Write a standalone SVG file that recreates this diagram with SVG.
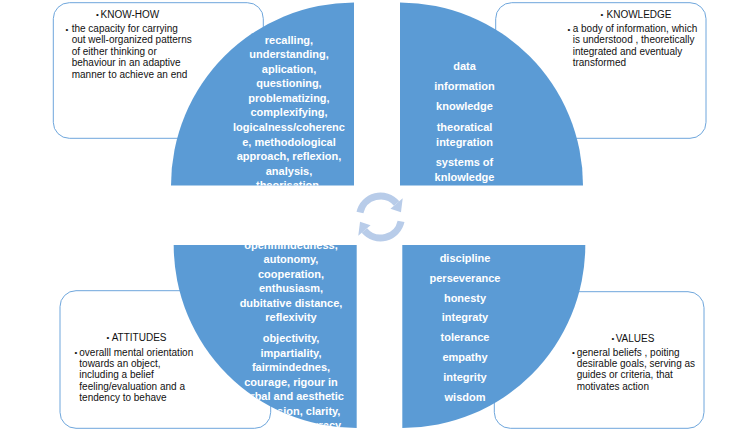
<svg xmlns="http://www.w3.org/2000/svg" width="753" height="435" viewBox="0 0 753 435">
<style>
.box{fill:#ffffff;stroke:#6ea6dc;stroke-width:1}
.quad{fill:#5b9bd5}
.qt{font-family:"Liberation Sans",Arial,sans-serif;font-size:11px;font-weight:bold;fill:#ffffff;text-anchor:middle}
.bt{font-family:"Liberation Sans",Arial,sans-serif;font-size:10px;fill:#111111}
.bu{font-family:"Liberation Sans",Arial,sans-serif;font-size:8px;fill:#111111}
.bh{font-family:"Liberation Sans",Arial,sans-serif;font-size:10px;fill:#111111}
.cyc{fill:none;stroke:#b8cce9;stroke-width:7}
.cyh{fill:#b8cce9}
</style>
<defs>
<clipPath id="cTL"><path d="M354,185.5 L171,185.5 A183,183 0 0 1 354,2.5 Z"/></clipPath>
<clipPath id="cTR"><path d="M400,185.5 L400,2.5 A183,183 0 0 1 583,185.5 Z"/></clipPath>
<clipPath id="cBL"><path d="M356.7,245 L356.7,428 A183,183 0 0 1 173.7,245 Z"/></clipPath>
<clipPath id="cBR"><path d="M402.3,245 L585.3,245 A183,183 0 0 1 402.3,428 Z"/></clipPath>
</defs>
<rect width="753" height="435" fill="#ffffff"/>

<g id="knowhow-box">
<rect class="box" x="53.3" y="2.7" width="210" height="135.6" rx="16"/>
<text class="bu" x="96" y="17">•</text>
<text class="bh" x="100.5" y="17.5">KNOW-HOW</text>
<text class="bu" x="65.5" y="31.5">•</text>
<text class="bt" x="71.7" y="32">the capacity for carrying</text>
<text class="bt" x="71.7" y="43.3">out well-organized patterns</text>
<text class="bt" x="71.7" y="55">of either thinking or</text>
<text class="bt" x="71.7" y="66.3">behaviour in an adaptive</text>
<text class="bt" x="71.7" y="77.5">manner to achieve an end</text>
</g>

<g id="knowledge-box">
<rect class="box" x="495.7" y="2.7" width="210.3" height="135.6" rx="16"/>
<text class="bu" x="600.5" y="17">•</text>
<text class="bh" x="606.5" y="17.5">KNOWLEDGE</text>
<text class="bu" x="567.5" y="31.5">•</text>
<text class="bt" x="572.7" y="32">a body of information, which</text>
<text class="bt" x="572.7" y="43.3">is understood , theoretically</text>
<text class="bt" x="572.7" y="55">integrated and eventualy</text>
<text class="bt" x="572.7" y="66.3">transformed</text>
</g>

<g id="attitudes-box">
<rect class="box" x="60" y="290.7" width="210.7" height="137.6" rx="16"/>
<text class="bu" x="106.5" y="340.2">•</text>
<text class="bh" x="111.7" y="340.7">ATTITUDES</text>
<text class="bu" x="74.5" y="355.2">•</text>
<text class="bt" x="79.3" y="355.7">overalll mental orientation</text>
<text class="bt" x="79.3" y="367">towards an object,</text>
<text class="bt" x="79.3" y="378.3">including a belief</text>
<text class="bt" x="79.3" y="389.7">feeling/evaluation and a</text>
<text class="bt" x="79.3" y="401">tendency to behave</text>
</g>

<g id="values-box">
<rect class="box" x="494.3" y="291.7" width="209.7" height="136.6" rx="16"/>
<text class="bu" x="611.5" y="341.2">•</text>
<text class="bh" x="615.7" y="341.7">VALUES</text>
<text class="bu" x="572" y="355.2">•</text>
<text class="bt" x="576.7" y="355.7">general beliefs , poiting</text>
<text class="bt" x="576.7" y="367">desirable goals, serving as</text>
<text class="bt" x="576.7" y="378.3">guides or criteria, that</text>
<text class="bt" x="576.7" y="389.7">motivates action</text>
</g>

<g id="skills-quadrant">
<path class="quad" d="M354,185.5 L171,185.5 A183,183 0 0 1 354,2.5 Z"/>
<g clip-path="url(#cTL)">
<text class="qt" x="289" y="43.5">recalling,</text>
<text class="qt" x="289" y="58">understanding,</text>
<text class="qt" x="289" y="72.6">aplication,</text>
<text class="qt" x="289" y="87.2">questioning,</text>
<text class="qt" x="289" y="101.8">problematizing,</text>
<text class="qt" x="289" y="116.4">complexifying,</text>
<text class="qt" x="289" y="131">logicalness/coherenc</text>
<text class="qt" x="289" y="145.6">e, methodological</text>
<text class="qt" x="289" y="160.2">approach, reflexion,</text>
<text class="qt" x="289" y="174.8">analysis,</text>
<text class="qt" x="289" y="189.4">theorisation,</text>
</g>
</g>

<g id="knowledge-quadrant">
<path class="quad" d="M400,185.5 L400,2.5 A183,183 0 0 1 583,185.5 Z"/>
<g clip-path="url(#cTR)">
<text class="qt" x="464.5" y="70">data</text>
<text class="qt" x="464.5" y="90">information</text>
<text class="qt" x="464.5" y="110">knowledge</text>
<text class="qt" x="464.5" y="130.5">theoratical</text>
<text class="qt" x="464.5" y="145.5">integration</text>
<text class="qt" x="464.5" y="165.5">systems of</text>
<text class="qt" x="464.5" y="180.5">knlowledge</text>
</g>
</g>

<g id="attitudes-quadrant">
<path class="quad" d="M356.7,245 L356.7,428 A183,183 0 0 1 173.7,245 Z"/>
<g clip-path="url(#cBL)">
<text class="qt" x="291" y="248.5">openmindedness,</text>
<text class="qt" x="291" y="263">autonomy,</text>
<text class="qt" x="291" y="277.5">cooperation,</text>
<text class="qt" x="291" y="292">enthusiasm,</text>
<text class="qt" x="291" y="306.5">dubitative distance,</text>
<text class="qt" x="291" y="321">reflexivity</text>
<text class="qt" x="291" y="342">objectivity,</text>
<text class="qt" x="291" y="356.5">impartiality,</text>
<text class="qt" x="291" y="371">fairmindednes,</text>
<text class="qt" x="291" y="385.5">courage, rigour in</text>
<text class="qt" x="291" y="400">verbal and aesthetic</text>
<text class="qt" x="291" y="414.5">expression, clarity,</text>
<text class="qt" x="291" y="429">precision, accuracy,</text>
</g>
</g>

<g id="values-quadrant">
<path class="quad" d="M402.3,245 L585.3,245 A183,183 0 0 1 402.3,428 Z"/>
<g clip-path="url(#cBR)">
<text class="qt" x="465" y="262">discipline</text>
<text class="qt" x="465" y="281.5">perseverance</text>
<text class="qt" x="465" y="301.5">honesty</text>
<text class="qt" x="465" y="321">integraty</text>
<text class="qt" x="465" y="341">tolerance</text>
<text class="qt" x="465" y="361">empathy</text>
<text class="qt" x="465" y="381">integrity</text>
<text class="qt" x="465" y="401">wisdom</text>
</g>
</g>

<g id="connectors">
<path class="cyc" d="M359.96,212.6 A21,21 0 0 1 396.59,203.5"/>
<polygon class="cyh" points="402.71,198.36 390.46,208.64 400.96,212.28"/>
<path class="cyc" d="M401.04,221.37 A21,21 0 0 1 364.41,230.5"/>
<polygon class="cyh" points="358.29,235.64 370.54,225.36 360.04,221.72"/>
</g>
</svg>
